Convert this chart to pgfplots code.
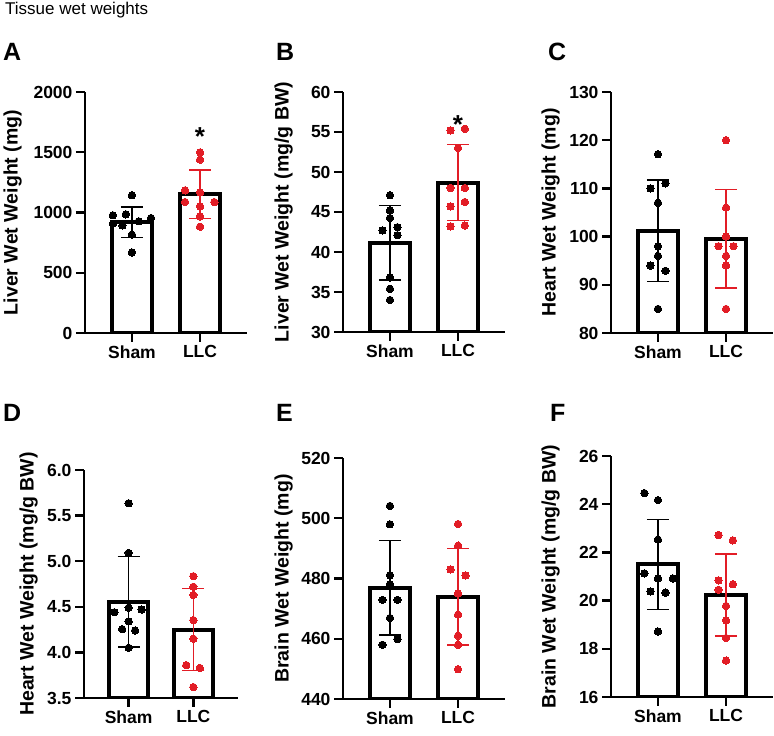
\documentclass[border=0pt]{standalone}
\usepackage{pgfplots}
\pgfplotsset{compat=1.18}
\usepackage{fontspec}
\setmainfont{Liberation Sans}
\definecolor{llcred}{RGB}{226,29,38}
\tikzset{starnode/.style={font=\bfseries\fontsize{26}{26}\selectfont, anchor=base, inner sep=0pt}}
\pgfplotsset{
  prism/.style={
    scale only axis, width=162pt, height=241pt, anchor=south west,
    axis lines=left, axis line style={-, line width=2.8pt},
    xmin=-0.69, xmax=1.69, xtick={0,1}, xticklabels={Sham,LLC},
    tick align=outside, major tick length=9pt,
    every tick/.style={black, line width=2.3pt},
    tick label style={font=\bfseries\fontsize{17.5}{17.5}\selectfont},
    ylabel style={font=\bfseries\fontsize{19.5}{19.5}\selectfont, anchor=south, inner sep=0pt},
    /pgf/number format/assume math mode=true,
    /pgf/number format/1000 sep={},
    scaled y ticks=false,
    clip=true,
  },
  ylab/.style={ylabel style={at={(axis description cs:#1,0.5)}}},
  barst/.style={ybar, bar width=0.6, bar shift=0pt, draw=black, fill=white, line width=4pt},
  errb/.style={draw=none, mark=none, forget plot,
    error bars/y dir=both, error bars/y explicit,
    error bars/error bar style={line width=1.7pt, draw=#1},
    error bars/error mark options={rotate=90, line width=1.7pt, mark size=11pt, draw=#1}},
  shamdots/.style={only marks, mark=*, mark size=3.7pt, mark options={fill=black, draw=black, line width=0pt}},
  llcdots/.style={only marks, mark=*, mark size=3.7pt, mark options={fill=llcred, draw=llcred, line width=0pt}},
}
\begin{document}
\begin{tikzpicture}[x=1pt,y=1pt]
\useasboundingbox (0,0) rectangle (774,736);
\node[anchor=base west, font=\fontsize{17}{17}\selectfont, inner sep=0pt] at (5,721) {Tissue wet weights};
\begin{scope}[every node/.style={anchor=base west, font=\bfseries\fontsize{25}{25}\selectfont, inner sep=0pt}]
\node at (3,675) {A};
\node at (276,675) {B};
\node at (548,675) {C};
\node at (3,314) {D};
\node at (276,314) {E};
\node at (550,314) {F};
\end{scope}

% A
\begin{axis}[prism, at={(85pt,403pt)}, ymin=0, ymax=2000, ytick={0,500,1000,1500,2000}, ylab=-0.389, ylabel={Liver Wet Weight (mg)}]
\addplot[barst] coordinates {(0,918) (1,1151)};
\addplot[errb=black] coordinates {(0,918) +- (0,126)};
\addplot[errb=llcred] coordinates {(1,1151) +- (0,202)};
\addplot[shamdots] coordinates {(0,1143) (-0.28,977) (-0.09,985) (0.10,927) (0.28,954) (-0.28,907) (-0.14,893) (0,816) (0,669)};
\addplot[llcdots] coordinates {(1,1499) (1,1438) (0.78,1184) (1,1167) (0.78,1087) (1.21,1087) (1,1051) (1,968) (1,882)};
\node[starnode] at (axis cs:1,1555) {*};
\end{axis}

% B
\begin{axis}[prism, at={(343pt,404pt)}, height=240pt, ymin=30, ymax=60, ytick={30,35,...,60}, ylab=-0.309, ylabel={Liver Wet Weight (mg/g BW)}]
\addplot[barst] coordinates {(0,41.17) (1,48.67)};
\addplot[errb=black] coordinates {(0,41.17) +- (0,4.63)};
\addplot[errb=llcred] coordinates {(1,48.67) +- (0,4.75)};
\addplot[shamdots] coordinates {(0,47.1) (0,45.2) (0,44.25) (-0.11,42.7) (0.11,43.1) (0.11,42.1) (0,36.8) (0,35.4) (0,34.0)};
\addplot[llcdots] coordinates {(0.89,55.2) (1.10,55.4) (1,53.0) (0.89,48.0) (1.10,48.0) (0.89,45.7) (1.10,46.25) (0.89,43.2) (1.10,43.3)};
\node[starnode] at (axis cs:1,54.75) {*};
\end{axis}

% C
\begin{axis}[prism, at={(611pt,403pt)}, ymin=80, ymax=130, ytick={80,90,...,130}, ylab=-0.315, ylabel={Heart Wet Weight (mg)}]
\addplot[barst] coordinates {(0,101.2) (1,99.6)};
\addplot[errb=black] coordinates {(0,101.2) +- (0,10.5)};
\addplot[errb=llcred] coordinates {(1,99.6) +- (0,10.2)};
\addplot[shamdots] coordinates {(0,117.1) (-0.11,110) (0.11,111.05) (0,107) (0,98) (0,96) (-0.11,94) (0.11,92.9) (0,85)};
\addplot[llcdots] coordinates {(1,120) (1,106) (1,100) (0.89,98) (1.11,98) (1,96) (1,94) (1,85)};
\end{axis}

% D
\begin{axis}[prism, at={(84pt,38pt)}, width=154pt, height=228pt, ymin=3.5, ymax=6.0, ytick={3.5,4.0,...,6.0},
  yticklabel style={/pgf/number format/.cd, fixed, fixed zerofill, precision=1},
  ylab=-0.299, ylabel={Heart Wet Weight (mg/g BW)}]
\addplot[barst] coordinates {(0,4.555) (1,4.25)};
\addplot[errb=black] coordinates {(0,4.555) +- (0,0.496)};
\addplot[errb=llcred] coordinates {(1,4.25) +- (0,0.45)};
\addplot[shamdots] coordinates {(0,5.635) (0,5.09) (-0.22,4.44) (0,4.49) (0.20,4.47) (0,4.34) (-0.10,4.255) (0.10,4.24) (0,4.05)};
\addplot[llcdots] coordinates {(1,4.836) (1,4.72) (1,4.63) (1,4.354) (1,4.15) (0.89,3.86) (1.10,3.83) (1,3.62)};
\end{axis}

% E
\begin{axis}[prism, at={(343pt,37pt)}, ymin=440, ymax=520, ytick={440,460,...,520}, ylab=-0.309, ylabel={Brain Wet Weight (mg)}]
\addplot[barst] coordinates {(0,476.9) (1,474.0)};
\addplot[errb=black] coordinates {(0,476.9) +- (0,15.7)};
\addplot[errb=llcred] coordinates {(1,474.0) +- (0,16.0)};
\addplot[shamdots] coordinates {(0,504.1) (0,498) (0,481.1) (0,478.1) (-0.11,472.9) (0.11,472.9) (0,466.9) (-0.11,458) (0.11,459.9)};
\addplot[llcdots] coordinates {(1,498.1) (1,490.9) (0.89,483) (1.11,481) (1,475) (1,468) (1,461) (1,458) (1,449.9)};
\end{axis}

% F
\begin{axis}[prism, at={(611pt,39pt)}, ymin=16, ymax=26, ytick={16,18,...,26}, ylab=-0.315, ylabel={Brain Wet Weight (mg/g BW)}]
\addplot[barst] coordinates {(0,21.5) (1,20.23)};
\addplot[errb=black] coordinates {(0,21.5) +- (0,1.87)};
\addplot[errb=llcred] coordinates {(1,20.23) +- (0,1.71)};
\addplot[shamdots] coordinates {(-0.20,24.46) (0,24.17) (0,22.53) (-0.20,21.13) (0,20.92) (0.22,20.92) (-0.11,20.38) (0.11,20.33) (0,18.72)};
\addplot[llcdots] coordinates {(0.89,22.72) (1.10,22.50) (0.89,20.84) (1.10,20.68) (0.89,20.45) (1,19.78) (1,19.18) (1,18.45) (1,17.51)};
\end{axis}
\end{tikzpicture}
\end{document}
